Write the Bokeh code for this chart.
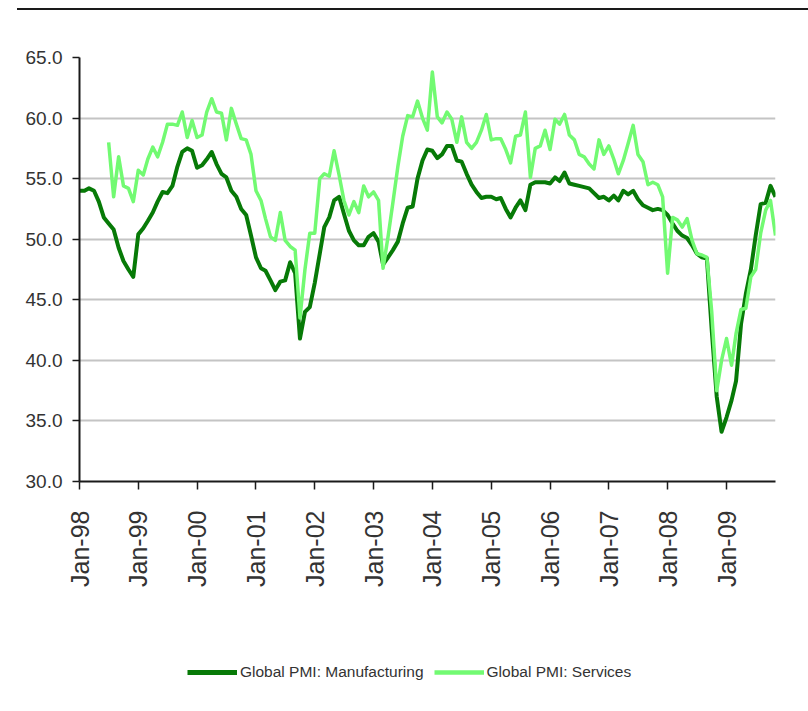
import math
import pandas as pd
from bokeh.plotting import figure
from bokeh.models import (ColumnDataSource, FixedTicker, DatetimeTickFormatter,
                          NumeralTickFormatter, Legend, LegendItem, Div, Range1d)
from bokeh.layouts import column
from bokeh.embed import file_html
from bokeh.resources import INLINE

# ---------------- data ----------------
months = pd.date_range("1998-01-01", "2009-11-01", freq="MS")

manufacturing = [
    54.0, 54.0, 54.2, 54.0, 53.1, 51.8, 51.3, 50.8, 49.3, 48.2, 47.5, 46.9,   # 1998
    50.4, 50.9, 51.5, 52.2, 53.1, 53.9, 53.8, 54.4, 56.0, 57.2, 57.5, 57.3,   # 1999
    55.9, 56.1, 56.6, 57.2, 56.2, 55.4, 55.1, 54.0, 53.5, 52.5, 52.0, 50.3,   # 2000
    48.5, 47.6, 47.4, 46.6, 45.8, 46.5, 46.6, 48.1, 47.2, 41.8, 44.0, 44.4,   # 2001
    46.4, 48.8, 51.0, 51.8, 53.2, 53.5, 52.1, 50.7, 49.9, 49.5, 49.5, 50.2,   # 2002
    50.5, 49.8, 47.9, 48.5, 49.1, 49.8, 51.3, 52.6, 52.7, 55.0, 56.5, 57.4,   # 2003
    57.3, 56.7, 57.0, 57.7, 57.7, 56.5, 56.4, 55.4, 54.5, 53.9, 53.4, 53.5,   # 2004
    53.5, 53.3, 53.4, 52.5, 51.8, 52.6, 53.2, 52.4, 54.5, 54.7, 54.7, 54.7,   # 2005
    54.6, 55.1, 54.8, 55.5, 54.6, 54.5, 54.4, 54.3, 54.2, 53.8, 53.4, 53.5,   # 2006
    53.2, 53.6, 53.2, 54.0, 53.7, 54.0, 53.3, 52.8, 52.6, 52.4, 52.5, 52.4,   # 2007
    52.0, 51.3, 50.7, 50.3, 50.1, 49.5, 48.8, 48.5, 48.4, 42.5, 37.0, 34.1,   # 2008
    35.3, 36.7, 38.3, 43.0, 45.5, 47.5, 50.3, 52.9, 53.0, 54.4, 53.5,         # 2009
]

nan = float("nan")
services = [
    nan, nan, nan, nan, nan, nan, 58.0, 53.5, 56.8, 54.4, 54.2, 53.1,         # 1998
    55.7, 55.3, 56.6, 57.6, 56.8, 58.0, 59.5, 59.5, 59.4, 60.5, 58.4, 59.8,   # 1999
    58.4, 58.6, 60.5, 61.6, 60.5, 60.4, 58.2, 60.8, 59.5, 58.3, 58.2, 57.0,   # 2000
    54.0, 53.2, 51.7, 50.2, 49.9, 52.2, 49.9, 49.4, 49.1, 43.5, 47.5, 50.5,   # 2001
    50.5, 55.0, 55.4, 55.2, 57.3, 55.3, 53.2, 52.0, 53.1, 52.2, 54.4, 53.5,   # 2002
    53.9, 53.2, 47.6, 50.2, 53.0, 56.0, 58.5, 60.2, 60.1, 61.4, 60.0, 59.0,   # 2003
    63.8, 60.1, 59.6, 60.5, 59.9, 58.0, 60.1, 58.0, 57.5, 58.0, 59.0, 60.3,   # 2004
    58.2, 58.3, 58.3, 57.4, 56.3, 58.5, 58.6, 60.5, 55.1, 57.5, 57.7, 59.0,   # 2005
    57.4, 59.9, 59.5, 60.3, 58.6, 58.2, 57.0, 56.8, 56.2, 55.8, 58.2, 57.0,   # 2006
    57.7, 56.6, 55.4, 56.5, 57.9, 59.4, 57.0, 56.4, 54.5, 54.7, 54.5, 53.5,   # 2007
    47.2, 51.8, 51.6, 51.0, 51.7, 49.9, 48.8, 48.7, 48.5, 44.0, 37.5, 40.0,   # 2008
    41.8, 39.6, 42.2, 44.2, 44.3, 46.9, 47.5, 50.5, 52.4, 53.2, 50.3,         # 2009
]

series_names = ["Global PMI: Manufacturing", "Global PMI: Services"]
series_colors = ["#077a07", "#72fa72"]
series_widths = [4, 3.5]

y_ticks = [30, 35, 40, 45, 50, 55, 60, 65]
x_tick_dates = ["1998-01-01", "1999-01-01", "2000-01-01", "2001-01-01", "2002-01-01",
                "2003-01-01", "2004-01-01", "2005-01-01", "2006-01-01", "2007-01-01",
                "2008-01-01", "2009-01-01"]
x_tick_labels = ["Jan-98", "Jan-99", "Jan-00", "Jan-01", "Jan-02", "Jan-03",
                 "Jan-04", "Jan-05", "Jan-06", "Jan-07", "Jan-08", "Jan-09"]

# ---------------- main figure ----------------
FONT = "Liberation Sans"
TXT = "#333333"

source = ColumnDataSource(dict(month=months, manufacturing=manufacturing, services=services))

p = figure(width=808, height=611, output_backend="svg", toolbar_location=None,
           x_axis_type="datetime",
           x_range=Range1d(months[0], months[-1]), y_range=Range1d(30, 65),
           min_border_left=79, min_border_right=33, min_border_top=47, min_border_bottom=140)
p.outline_line_color = None
p.background_fill_color = "white"
p.border_fill_color = "white"

p.line("month", "manufacturing", source=source, line_color=series_colors[0],
       line_width=series_widths[0], line_join="round")
p.line("month", "services", source=source, line_color=series_colors[1],
       line_width=series_widths[1], line_join="round")

# y axis
p.yaxis.ticker = FixedTicker(ticks=y_ticks)
p.yaxis.formatter = NumeralTickFormatter(format="0.0")
p.yaxis.major_tick_out = 7
p.yaxis.major_tick_in = 0
p.yaxis.minor_tick_out = 0
p.yaxis.minor_tick_in = 0
p.yaxis.major_label_standoff = 10
p.yaxis.major_label_text_font = FONT
p.yaxis.major_label_text_font_size = "19px"
p.yaxis.major_label_text_color = TXT
p.yaxis.axis_line_width = 2
p.yaxis.axis_line_color = "#1a1a1a"
p.yaxis.major_tick_line_color = "#1a1a1a"
p.yaxis.major_tick_line_width = 1.5

# x axis
tick_ms = [pd.Timestamp(d).value / 1e6 for d in x_tick_dates]
p.xaxis.ticker = FixedTicker(ticks=tick_ms)
p.xaxis.formatter = DatetimeTickFormatter(years="%b-%y", months="%b-%y", days="%b-%y",
                                          hours="%b-%y", minutes="%b-%y", seconds="%b-%y",
                                          milliseconds="%b-%y", microseconds="%b-%y",
                                          hourmin="%b-%y", minsec="%b-%y")
p.xaxis.major_label_overrides = {t: lab for t, lab in zip(tick_ms, x_tick_labels)}
p.xaxis.major_label_orientation = math.pi / 2
p.xaxis.major_tick_out = 8
p.xaxis.major_tick_in = 0
p.xaxis.minor_tick_out = 0
p.xaxis.minor_tick_in = 0
p.xaxis.major_label_standoff = 21
p.xaxis.major_label_text_font = FONT
p.xaxis.major_label_text_font_size = "25px"
p.xaxis.major_label_text_color = TXT
p.xaxis.axis_line_width = 2
p.xaxis.axis_line_color = "#1a1a1a"
p.xaxis.major_tick_line_color = "#1a1a1a"
p.xaxis.major_tick_line_width = 1.5

# grid
p.xgrid.grid_line_color = None
p.ygrid.ticker = FixedTicker(ticks=y_ticks)
p.ygrid.grid_line_color = "#c4c4c4"
p.ygrid.grid_line_width = 2

# ---------------- legend strip ----------------
lg = figure(width=808, height=80, output_backend="svg", toolbar_location=None,
            x_range=Range1d(0, 1), y_range=Range1d(0, 1),
            x_axis_location=None, y_axis_location=None, min_border=0)
lg.outline_line_color = None
lg.grid.visible = False
# legend-only renderers (no visible data points)
leg_renderers = [lg.line(x=[nan, nan], y=[nan, nan], line_color=c, line_width=w + 1)
                 for c, w in zip(series_colors, series_widths)]
legend = Legend(items=[LegendItem(label=n, renderers=[r])
                       for n, r in zip(series_names, leg_renderers)],
                location=(108, 19), orientation="horizontal",
                glyph_width=50, glyph_height=20, label_standoff=3, spacing=10,
                padding=0, margin=0,
                label_text_font=FONT, label_text_font_size="15.5px",
                label_text_color=TXT,
                border_line_alpha=0, background_fill_alpha=0)
lg.add_layout(legend, "center")

top_rule = Div(text="", width=791, height=2, margin=(8, 0, 0, 17),
               styles={"background-color": "#1a1a1a"})

layout = column(top_rule, p, lg, spacing=0)

open("out.html", "w").write(file_html(layout, INLINE))
